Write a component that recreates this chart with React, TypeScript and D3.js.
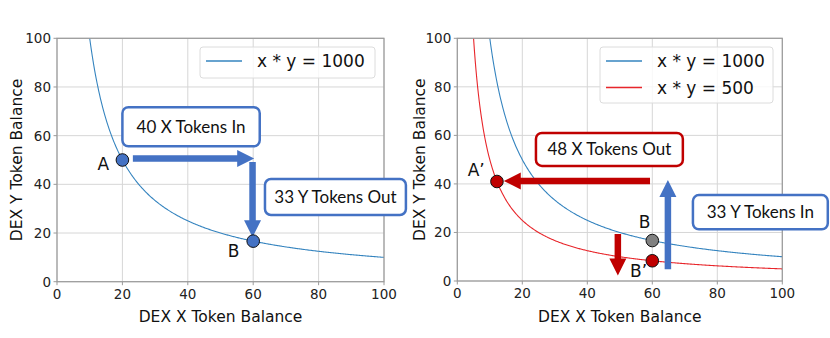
import React from "react";
import * as d3 from "d3";

// ---- data ----
const xTicks = [0, 20, 40, 60, 80, 100];
const yTicks = [0, 20, 40, 60, 80, 100];
const curveK = [1000, 500];
const curveLabels = ["x * y = 1000", "x * y = 500"];
const curveColors = ["#3584bf", "#e8262b"];
const xSamples = d3.range(4, 100.01, 0.25);

// left panel annotations (data units)
const leftPoints = [
  { x: 20, y: 50, label: "A", fill: "#4472C4", lx: 14.2, ly: 45.9 },
  { x: 60, y: 1000 / 60, label: "B", fill: "#4472C4", lx: 54, ly: 10.2 },
];
const leftArrows = [
  { x1: 23.2, y1: 50.6, x2: 60.3, y2: 50.6, color: "#4472C4" },
  { x1: 59.8, y1: 49.2, x2: 59.8, y2: 18.3, color: "#4472C4" },
];
const leftBoxes = [
  { x1: 20, x2: 62, y1: 71.7, y2: 55.6, text: "40 X Tokens In", color: "#4472C4" },
  { x1: 63.6, x2: 106.7, y1: 42.2, y2: 27.4, text: "33 Y Tokens Out", color: "#4472C4" },
];

// right panel annotations
const rightPoints = [
  { x: 12.2, y: 41, label: "A\u2019", fill: "#C00000", lx: 5.8, ly: 43.3 },
  { x: 60, y: 1000 / 60, label: "B", fill: "#808080", lx: 57.6, ly: 21.8 },
  { x: 60, y: 500 / 60, label: "B\u2019", fill: "#C00000", lx: 55.8, ly: 1.5 },
];
const rightArrows = [
  { x1: 59.3, y1: 41.2, x2: 14.3, y2: 41.2, color: "#C00000" },
  { x1: 49.4, y1: 19.4, x2: 49.4, y2: 2.3, color: "#C00000" },
  { x1: 64.8, y1: 4.8, x2: 64.8, y2: 41.6, color: "#4472C4" },
];
const rightBoxes = [
  { x1: 24.2, x2: 69.4, y1: 61, y2: 47.4, text: "48 X Tokens Out", color: "#C00000" },
  { x1: 72.5, x2: 114, y1: 35.4, y2: 21.3, text: "33 Y Tokens In", color: "#4472C4" },
];

type Pt = { x: number; y: number; label: string; fill: string; lx: number; ly: number };
type Ar = { x1: number; y1: number; x2: number; y2: number; color: string };
type Bx = { x1: number; x2: number; y1: number; y2: number; text: string; color: string };

function arrowPath(px1: number, py1: number, px2: number, py2: number) {
  const shaft = 6.5, headW = 17, headL = 17;
  const dx = px2 - px1, dy = py2 - py1;
  const len = Math.hypot(dx, dy);
  const ux = dx / len, uy = dy / len;
  const nx = -uy, ny = ux;
  const bx = px2 - ux * headL, by = py2 - uy * headL;
  const p = [
    [px1 + nx * shaft / 2, py1 + ny * shaft / 2],
    [bx + nx * shaft / 2, by + ny * shaft / 2],
    [bx + nx * headW / 2, by + ny * headW / 2],
    [px2, py2],
    [bx - nx * headW / 2, by - ny * headW / 2],
    [bx - nx * shaft / 2, by - ny * shaft / 2],
    [px1 - nx * shaft / 2, py1 - ny * shaft / 2],
  ];
  return "M" + p.map((q) => q.join(",")).join("L") + "Z";
}

const tickFont = "DejaVu Sans, sans-serif";
const boxFont = "Lato, 'Open Sans', sans-serif";

function Panel(props: {
  id: string;
  left: number; right: number; top: number; bottom: number;
  curves: number[];
  legend: { x: number; y: number; w: number; h: number };
  yLabelX: number;
  points: Pt[]; arrows: Ar[]; boxes: Bx[];
}) {
  const { left, right, top, bottom } = props;
  const x = d3.scaleLinear().domain([0, 100]).range([left, right]);
  const y = d3.scaleLinear().domain([0, 100]).range([bottom, top]);
  return (
    <g>
      <defs>
        <clipPath id={props.id}>
          <rect x={left} y={top} width={right - left} height={bottom - top} />
        </clipPath>
      </defs>
      {/* grid */}
      {xTicks.map((t) => (
        <line key={"gx" + t} x1={x(t)} x2={x(t)} y1={top} y2={bottom} stroke="#d6d6d6" strokeWidth={1} />
      ))}
      {yTicks.map((t) => (
        <line key={"gy" + t} x1={left} x2={right} y1={y(t)} y2={y(t)} stroke="#d6d6d6" strokeWidth={1} />
      ))}
      {/* curves */}
      <g clipPath={`url(#${props.id})`}>
        {props.curves.map((k, i) => {
          const ln = d3
            .line<number>()
            .x((d) => x(d))
            .y((d) => y(k / d));
          return (
            <path key={k} d={ln(xSamples.filter((v) => k / v <= 110)) || ""} fill="none" stroke={curveColors[i]} strokeWidth={1.1} />
          );
        })}
      </g>
      {/* spines */}
      <rect x={left} y={top} width={right - left} height={bottom - top} fill="none" stroke="#9a9a9a" strokeWidth={1.2} />
      {/* ticks */}
      {xTicks.map((t) => (
        <g key={"tx" + t}>
          <line x1={x(t)} x2={x(t)} y1={bottom} y2={bottom + 3.5} stroke="#9a9a9a" />
          <text x={x(t)} y={bottom + 17} textAnchor="middle" fontFamily={tickFont} fontSize={13.5} fill="#222">{t}</text>
        </g>
      ))}
      {yTicks.map((t) => (
        <g key={"ty" + t}>
          <line x1={left - 3.5} x2={left} y1={y(t)} y2={y(t)} stroke="#9a9a9a" />
          <text x={left - 6} y={y(t) + 5} textAnchor="end" fontFamily={tickFont} fontSize={13.5} fill="#222">{t}</text>
        </g>
      ))}
      {/* axis labels */}
      <text x={(left + right) / 2} y={322} textAnchor="middle" fontFamily={tickFont} fontSize={15.5} fill="#111">DEX X Token Balance</text>
      <text transform={`translate(${props.yLabelX},${(top + bottom) / 2}) rotate(-90)`} textAnchor="middle" fontFamily={tickFont} fontSize={15.5} fill="#111">DEX Y Token Balance</text>
      {/* legend */}
      <rect x={props.legend.x} y={props.legend.y} width={props.legend.w} height={props.legend.h} rx={3} fill="white" fillOpacity={0.8} stroke="#dcdcdc" />
      {props.curves.map((k, i) => (
        <g key={"lg" + k}>
          <line x1={props.legend.x + 6} x2={props.legend.x + 42} y1={props.legend.y + 14 + i * 26.5} y2={props.legend.y + 14 + i * 26.5} stroke={curveColors[i]} strokeWidth={1.5} />
          <text x={props.legend.x + 57} y={props.legend.y + 20 + i * 26.5} fontFamily={tickFont} fontSize={17} fill="#111">{curveLabels[i]}</text>
        </g>
      ))}
      {/* boxes */}
      {props.boxes.map((b, i) => (
        <g key={"bx" + i}>
          <rect x={x(b.x1)} y={y(b.y1)} width={x(b.x2) - x(b.x1)} height={y(b.y2) - y(b.y1)} rx={6} fill="white" stroke={b.color} strokeWidth={2.5} />
          <text x={(x(b.x1) + x(b.x2)) / 2} y={(y(b.y1) + y(b.y2)) / 2 + 6} textAnchor="middle" fontFamily={boxFont} fontSize={17} fill="#111">{b.text}</text>
        </g>
      ))}
      {/* arrows */}
      {props.arrows.map((a, i) => (
        <path key={"ar" + i} d={arrowPath(x(a.x1), y(a.y1), x(a.x2), y(a.y2))} fill={a.color} />
      ))}
      {/* points */}
      {props.points.map((p, i) => (
        <g key={"pt" + i}>
          <circle cx={x(p.x)} cy={y(p.y)} r={6.3} fill={p.fill} stroke="#111" strokeWidth={1} />
          <text x={x(p.lx)} y={y(p.ly)} textAnchor="middle" fontFamily={tickFont} fontSize={17} fill="#111">{p.label}</text>
        </g>
      ))}
    </g>
  );
}

export default function App() {
  return (
    <svg width={830} height={338} style={{ display: "block", position: "absolute", left: 0, top: 0 }}>
      <rect width={830} height={338} fill="white" />
      <Panel
        id="clipL"
        left={57} right={384} top={38.3} bottom={281.7}
        curves={[curveK[0]]}
        legend={{ x: 200, y: 47, w: 175, h: 31 }}
        yLabelX={22}
        points={leftPoints} arrows={leftArrows} boxes={leftBoxes}
      />
      <Panel
        id="clipR"
        left={457.3} right={782.3} top={38.3} bottom={281}
        curves={curveK}
        legend={{ x: 600, y: 47, w: 173, h: 56 }}
        yLabelX={425}
        points={rightPoints} arrows={rightArrows} boxes={rightBoxes}
      />
    </svg>
  );
}
